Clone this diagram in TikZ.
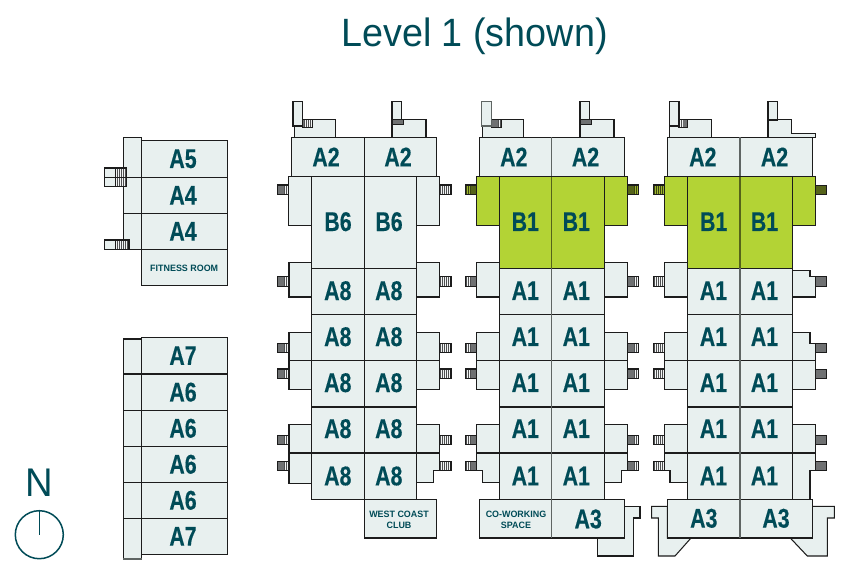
\documentclass[tikz,border=0pt]{standalone}
\usepackage{fontspec}
\setmainfont{Liberation Sans}
\newfontfamily\titlefont{Liberation Sans}[FakeStretch=0.955]
\newfontfamily\labfont{Liberation Sans}[FakeStretch=0.79,BoldFeatures={FakeBold=0.35}]
\newfontfamily\smallfont{Liberation Sans}[FakeStretch=0.97]
\definecolor{ink}{HTML}{004B57}
\definecolor{unitfill}{HTML}{E8F0EF}
\definecolor{grn}{HTML}{B3D335}
\definecolor{lineblk}{HTML}{1C1C1C}
\definecolor{linegry}{HTML}{5F6563}
\definecolor{stdk}{HTML}{6F7172}
\definecolor{stl}{HTML}{F2F4F4}
\definecolor{stdkG}{HTML}{55631A}
\definecolor{stlG}{HTML}{9DB52E}
\tikzset{
  x=1pt,y=-1pt,
  unit/.style={fill=unitfill,draw=lineblk,line width=1.05pt,line join=miter},
  green/.style={fill=grn,draw=lineblk,line width=1.05pt},
  softline/.style={draw=linegry,line width=1.5pt},
  hardline/.style={draw=lineblk,line width=1.05pt},
  lab/.style={font=\labfont\bfseries\fontsize{27}{27}\selectfont,text=ink,inner sep=0pt},
  smalllab/.style={font=\smallfont\bfseries\fontsize{9.2}{11}\selectfont,text=ink,inner sep=0pt,align=center},
}
% stub with a dark part and a hatched part
\newcommand\stubh[7][]{%
  \fill[stdk#1] (#2,#4) rectangle (#3,#5);
  \fill[stl#1] (#6,#4) rectangle (#7,#5);
  \pgfmathsetmacro\nxt{#6+2}
  \foreach \s in {#6,\nxt,...,#7}{\draw[stdk#1!70!black,line width=.9pt] (\s,#4) -- (\s,#5);}
  \draw[hardline] (#2,#4) rectangle (#3,#5);
}
\newcommand\stubd[5][]{%
  \fill[stdk#1] (#2,#4) rectangle (#3,#5);
  \draw[draw=lineblk,line width=.9pt] (#2,#4) rectangle (#3,#5);
}
% rows of a tower; #1 name, #2 row label
\newcommand\rows[2]{%
  \foreach \ya/\yb/\ym [count=\i] in {268.3/314.3/290.7,314.3/360.7/336.7,360.7/407/382.7,407/453/428.7,453/499.3/476}{
    \draw[unit] (\colL,\ya) rectangle (\colR,\yb);
    \node[lab] (#1l\i) at ({(\colL+\colM)/2-0.2},\ym) {#2};
    \node[lab] (#1r\i) at ({(\colM+\colR)/2-1.7},\ym) {#2};
  }
}
\begin{document}
\begin{tikzpicture}
\useasboundingbox (0,0) rectangle (846,566);
\fill[white] (0,0) rectangle (846,566);

\node[font=\titlefont\fontsize{39.5}{40}\selectfont,text=ink,inner sep=0pt,anchor=base] (title) at (474.5,46.7) {Level 1 (shown)};

% compass
\node[font=\titlefont\fontsize{40}{40}\selectfont,text=ink,inner sep=0pt,anchor=base] (north) at (39.5,496.7) {N};
\draw[ink,line width=1.5pt] (39.3,534.7) circle (24);
\draw[ink,line width=1.2pt] (39.3,510.7) -- (39.3,534.7);

% upper left tower
\draw[unit] (123.3,137.3) rectangle (141.7,249.3);
\draw[hardline] (123.3,177.3) -- (141.7,177.3) (123.3,213.3) -- (141.7,213.3);
\stubh{104.7}{126.7}{168}{186.3}{115.7}{126.7}
\draw[unit] (104.7,168) rectangle (115.7,186.3);
\draw[hardline] (104.7,177.3) -- (126.7,177.3);
\stubh{104.7}{129}{240}{249.3}{115.7}{129}
\draw[unit] (104.7,240) rectangle (115.7,249.3);
\foreach \ya/\yb/\t [count=\i] in {140.3/177.3/A5,177.3/213.3/A4,213.3/249.3/A4}{
  \draw[unit] (141.7,\ya) rectangle (227.7,\yb);
  \node[lab] (up\i) at (183,{(\ya+\yb)/2}) {\t};
}
\draw[unit] (141.7,249.3) rectangle (227.7,285.7);
\node[smalllab] (fitness) at (184.2,268) {FITNESS ROOM};

% lower left tower
\draw[unit] (123.3,339) rectangle (141.7,559);
\draw[softline] (123.3,559) -- (141.7,559);
\foreach \y in {374,410.3,446.3,482.3,518.3}{\draw[hardline] (123.3,\y) -- (141.7,\y);}
\foreach \ya/\yb/\t [count=\i] in {337.3/374/A7,374/410.3/A6,410.3/446.3/A6,446.3/482.3/A6,482.3/518.3/A6,518.3/554.3/A7}{
  \draw[unit] (141.7,\ya) rectangle (227.7,\yb);
  \node[lab] (lo\i) at (183,{(\ya+\yb)/2}) {\t};
}

% ---------- tower 1
\def\colL{311.7}\def\colM{364.3}\def\colR{416.7}
\def\wngL{289}\def\wngR{439.3}\def\stL{277.3}\def\stR{451}
\foreach \ya/\yb in {185/194.7,276.7/286.7,343.3/352.3,369/378.3,435.7/444.7,461.3/470.3}{
  \stubh{\stL}{\wngL}{\ya}{\yb}{284}{288.5}
  \stubh{\wngR}{\stR}{\ya}{\yb}{440}{450.5}
}
\draw[unit] (302.7,119.3) -- (335.7,119.3) -- (335.7,137.3) -- (294.3,137.3) -- (294.3,125) -- (302.7,125) -- cycle;
\stubh{302.7}{312.7}{119.3}{127.3}{304}{312.5}
\draw[unit] (293,101.7) rectangle (302.7,126);
\draw[unit] (392,119.3) -- (426,119.3) -- (426,137.3) -- (392,137.3) -- cycle;
\draw[unit] (392,101.7) rectangle (401.3,120);
\stubd{392}{403}{119.3}{124.7}
\draw[unit] (288.3,176.7) rectangle (\colL,225.7);
\draw[unit] (\colR,176.7) rectangle (\wngR,225.7);
\draw[unit] (\wngL,262.3) rectangle (\colL,297);
\draw[unit] (\colR,262.3) rectangle (\wngR,297);
\draw[unit] (\wngL,332.3) rectangle (\colL,389.3);
\draw[unit] (\colR,332.3) rectangle (\wngR,389.3);
\draw[hardline] (\wngL,360.7) -- (\colL,360.7) (\colR,360.7) -- (\wngR,360.7);
\draw[unit] (\wngL,424.3) rectangle (\colL,483.3);
\draw[unit] (\colR,424.3) -- (\wngR,424.3) -- (\wngR,470.3) -- (433.7,470.3) -- (433.7,482.3) -- (\colR,482.3) -- cycle;
\draw[hardline] (\wngL,453) -- (\colL,453) (\colR,453) -- (\wngR,453);
\draw[unit] (291.3,137.3) rectangle (436.7,176.7);
\draw[hardline] (\colM,137.3) -- (\colM,176.7);
\node[lab] (ta1) at (326,157) {A2};
\node[lab] (ta2) at (398,157) {A2};
\draw[unit] (\colL,176.7) rectangle (\colR,268.3);
\draw[hardline] (\colM,176.7) -- (\colM,268.3);
\node[lab] (tb1) at (338,221.7) {B6};
\node[lab] (tb2) at (389,221.7) {B6};
\rows{tw}{A8}
\draw[hardline] (\colM,268.3) -- (\colM,499.3);
\draw[unit] (\colM,499.3) rectangle (436.7,538);
\node[smalllab] (club) at (399,519.5) {WEST COAST\\CLUB};

% ---------- tower 2
\def\colL{499.3}\def\colM{551.7}\def\colR{604.3}
\def\wngL{476.7}\def\wngR{627.3}\def\stL{465.3}\def\stR{638.7}
\stubh[G]{\stL}{\wngL}{185}{194.7}{466}{470}
\stubh[G]{\wngR}{\stR}{185}{194.7}{634}{638.5}
\foreach \ya/\yb in {276.7/286.7,343.3/352.3,369/378.3,435.7/444.7,461.3/470.3}{
  \stubh{\stL}{\wngL}{\ya}{\yb}{466}{470}
  \stubh{\wngR}{\stR}{\ya}{\yb}{634}{638.5}
}
\draw[unit] (491.3,119.3) -- (523.3,119.3) -- (523.3,137.3) -- (482.7,137.3) -- (482.7,125) -- (491.3,125) -- cycle;
\stubh{491.3}{501.7}{119.3}{127.3}{498}{501.5}
\draw[unit,draw=linegry,line width=1.3pt] (481.7,101.7) rectangle (491.3,126);
\draw[unit] (580,119.3) -- (614,119.3) -- (614,137.3) -- (580,137.3) -- cycle;
\draw[unit] (580,101.7) rectangle (589.3,120);
\stubd{580}{591}{119.3}{124.7}
\draw[green] (\wngL,176.7) rectangle (\colL,225.7);
\draw[green] (\colR,176.7) rectangle (\wngR,225.7);
\draw[unit] (\wngL,262.3) rectangle (\colL,297);
\draw[unit] (\colR,262.3) rectangle (\wngR,297);
\draw[unit] (\wngL,332.3) rectangle (\colL,389.3);
\draw[unit] (\colR,332.3) rectangle (\wngR,389.3);
\draw[hardline] (\wngL,360.7) -- (\colL,360.7) (\colR,360.7) -- (\wngR,360.7);
\draw[unit] (\colL,424.3) -- (\wngL,424.3) -- (\wngL,470.3) -- (482.7,470.3) -- (482.7,482.3) -- (\colL,482.3) -- cycle;
\draw[unit] (\colR,424.3) -- (\wngR,424.3) -- (\wngR,470.3) -- (621.7,470.3) -- (621.7,482.3) -- (\colR,482.3) -- cycle;
\draw[hardline] (\wngL,453) -- (\colL,453) (\colR,453) -- (\wngR,453);
\draw[unit] (479.3,137.3) rectangle (624.3,176.7);
\draw[softline] (\colM,137.3) -- (\colM,176.7);
\node[lab] (ua1) at (513.8,157) {A2};
\node[lab] (ua2) at (585.5,157) {A2};
\draw[green] (\colL,176.7) rectangle (\colR,268.3);
\draw[draw=stdkG,line width=1.5pt] (\colM,176.7) -- (\colM,268.3);
\node[lab] (ub1) at (525.3,221.7) {B1};
\node[lab] (ub2) at (576.3,221.7) {B1};
\rows{uw}{A1}
\draw[softline] (\colM,268.3) -- (\colM,499.3);
\draw[unit] (624.3,506.3) -- (640,506.3) -- (640,518) -- (633.7,518) -- (633.7,556) -- (597.3,556) -- (597.3,538) -- (624.3,538) -- cycle;
\draw[unit] (479.3,499.3) rectangle (624.3,538);
\draw[softline] (\colM,499.3) -- (\colM,538);
\node[smalllab] (cowork) at (516,519.5) {CO-WORKING\\SPACE};
\node[lab] (ua3) at (588.2,519) {A3};

% ---------- tower 3
\def\colL{687.3}\def\colM{740}\def\colR{792.3}
\def\wngL{664.7}\def\wngR{815.3}\def\stL{653.3}\def\stR{826.7}
\stubh[G]{\stL}{\wngL}{185}{194.7}{654}{664}
\stubd[G]{\wngR}{\stR}{185}{194.7}
\foreach \ya/\yb in {276.7/286.7,343.3/352.3,369/378.3,435.7/444.7,461.3/470.3}{
  \stubh{\stL}{\wngL}{\ya}{\yb}{654}{664}
  \stubd{\wngR}{\stR}{\ya}{\yb}
}
\draw[unit] (679,119.3) -- (711.3,119.3) -- (711.3,137.3) -- (669.7,137.3) -- (669.7,125) -- (679,125) -- cycle;
\stubh{679}{687.7}{119.3}{127.3}{679.5}{683}
\draw[unit] (669.3,101.7) rectangle (679,126);
\draw[unit] (768,119.3) -- (791.3,119.3) -- (791.3,133.3) -- (815.7,133.3) -- (815.7,137.3) -- (768,137.3) -- cycle;
\draw[unit] (768,101.7) rectangle (777.3,120);
\draw[green] (\wngL,176.7) rectangle (\colL,225.7);
\draw[green] (\colR,176.7) rectangle (\wngR,225.7);
\draw[unit] (\wngL,262.3) rectangle (\colL,297);
\draw[unit] (\colR,270.7) -- (810,270.7) -- (810,276.7) -- (\wngR,276.7) -- (\wngR,297) -- (\colR,297) -- cycle;
\draw[unit] (\wngL,332.3) rectangle (\colL,389.3);
\draw[unit] (\colR,332.3) -- (810,332.3) -- (810,343.3) -- (\wngR,343.3) -- (\wngR,389.3) -- (\colR,389.3) -- cycle;
\draw[hardline] (\wngL,360.7) -- (\colL,360.7) (\colR,360.7) -- (\wngR,360.7);
\draw[unit] (\colL,424.3) -- (\wngL,424.3) -- (\wngL,470.3) -- (670,470.3) -- (670,482.3) -- (\colL,482.3) -- cycle;
\draw[unit] (\colR,424.3) -- (\wngR,424.3) -- (\wngR,470.3) -- (810,470.3) -- (810,499.3) -- (\colR,499.3) -- cycle;
\draw[hardline] (\wngL,453) -- (\colL,453) (\colR,453) -- (\wngR,453);
\draw[unit] (667.3,137.3) rectangle (812.3,176.7);
\draw[softline] (\colM,137.3) -- (\colM,176.7);
\node[lab] (va1) at (702.8,157) {A2};
\node[lab] (va2) at (774.5,157) {A2};
\draw[green] (\colL,176.7) rectangle (\colR,268.3);
\draw[draw=stdkG,line width=1.5pt] (\colM,176.7) -- (\colM,268.3);
\node[lab] (vb1) at (713.7,221.7) {B1};
\node[lab] (vb2) at (764.5,221.7) {B1};
\rows{vw}{A1}
\draw[softline] (\colM,268.3) -- (\colM,499.3);
\draw[unit] (667.3,506.3) -- (651.7,506.3) -- (651.7,518) -- (658.3,518) -- (658.3,556) -- (675,556) -- (691,538) -- (667.3,538) -- cycle;
\draw[unit] (812.3,506.3) -- (834.3,506.3) -- (834.3,518) -- (827.3,518) -- (827.3,556) -- (807.3,556) -- (790.3,538) -- (812.3,538) -- cycle;
\draw[unit] (667.3,499.3) rectangle (812.3,538);
\draw[softline] (\colM,499.3) -- (\colM,538);
\node[lab] (va3) at (703.8,518.3) {A3};
\node[lab] (vb3) at (776,518.3) {A3};
\end{tikzpicture}
\end{document}
